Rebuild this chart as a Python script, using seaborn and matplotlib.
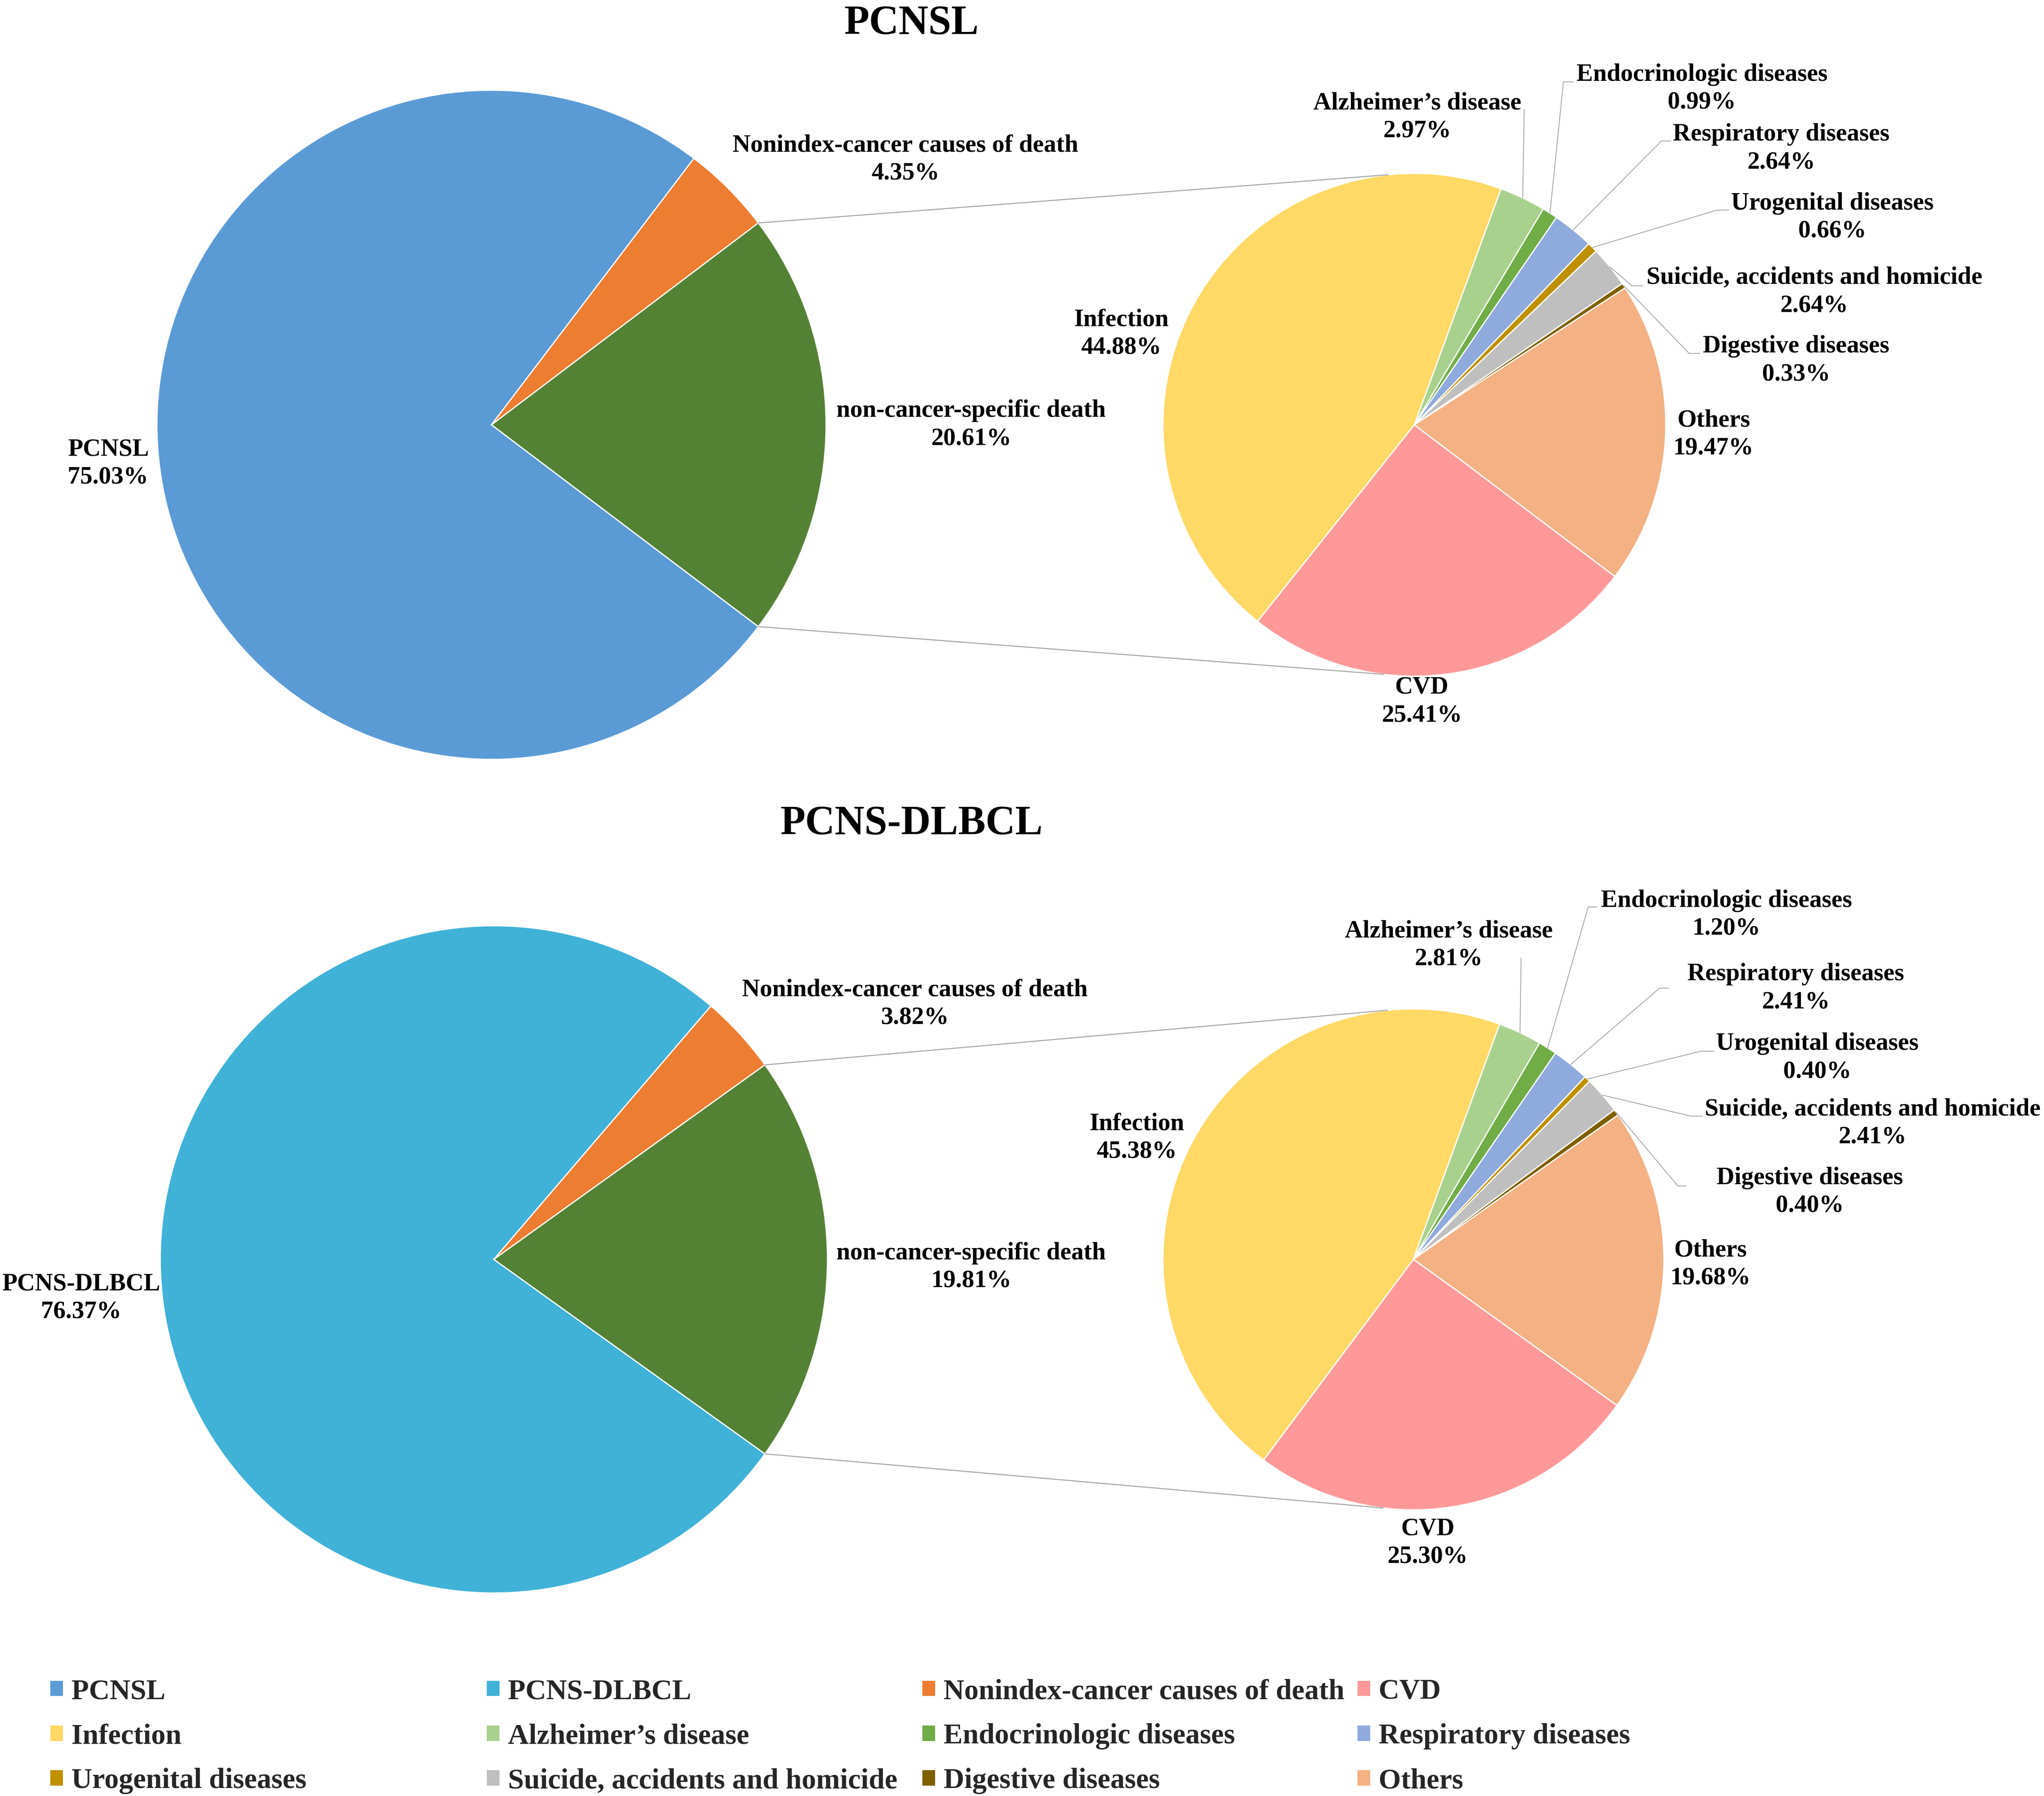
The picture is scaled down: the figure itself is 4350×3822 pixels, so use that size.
import matplotlib
matplotlib.use("Agg")
import matplotlib.pyplot as plt
from matplotlib.patches import Patch, ConnectionPatch
import numpy as np
import seaborn as sns

sns.set_theme(style="white")
plt.rcParams["font.family"] = ["Liberation Serif", "DejaVu Serif"]
plt.rcParams["font.weight"] = "bold"

# ---- data ----
main_names_pcnsl = ["PCNSL", "Nonindex-cancer causes of death", "non-cancer-specific death"]
main_vals_pcnsl = [75.03, 4.35, 20.61]
main_names_dlbcl = ["PCNS-DLBCL", "Nonindex-cancer causes of death", "non-cancer-specific death"]
main_vals_dlbcl = [76.37, 3.82, 19.81]

cause_names = ["CVD", "Infection", "Alzheimer’s disease", "Endocrinologic diseases",
               "Respiratory diseases", "Urogenital diseases",
               "Suicide, accidents and homicide", "Digestive diseases", "Others"]
cause_vals_pcnsl = [25.41, 44.88, 2.97, 0.99, 2.64, 0.66, 2.64, 0.33, 19.47]
cause_vals_dlbcl = [25.30, 45.38, 2.81, 1.20, 2.41, 0.40, 2.41, 0.40, 19.68]

legend_names = ["PCNSL", "PCNS-DLBCL", "Nonindex-cancer causes of death", "CVD",
                "Infection", "Alzheimer’s disease", "Endocrinologic diseases", "Respiratory diseases",
                "Urogenital diseases", "Suicide, accidents and homicide", "Digestive diseases", "Others"]

colors = {
    "PCNSL": "#5B9BD5", "PCNS-DLBCL": "#40B2D7",
    "Nonindex-cancer causes of death": "#ED7D31", "non-cancer-specific death": "#548235",
    "CVD": "#FF9999", "Infection": "#FFD966", "Alzheimer’s disease": "#A9D18E",
    "Endocrinologic diseases": "#70AD47", "Respiratory diseases": "#8FAADC",
    "Urogenital diseases": "#BF9000", "Suicide, accidents and homicide": "#BFBFBF",
    "Digestive diseases": "#7F6000", "Others": "#F4B183",
}

# ---- layout (label positions relative to pie centre, in radii) ----
main_lbl_pcnsl = [(-1.146, -0.115), (1.237, 0.794), (1.434, 0.0)]
main_lbl_dlbcl = [(-1.237, -0.116), (1.262, 0.766), (1.431, -0.023)]
cause_lbl_pcnsl = [(0.03, -1.10), (-1.166, 0.363), (0.011, 1.224), (1.144, 1.338), (1.46, 1.099),
                   (1.662, 0.826), (1.591, 0.529), (1.518, 0.256), (1.19, -0.037)]
cause_lbl_dlbcl = [(0.058, -1.131), (-1.105, 0.486), (0.141, 1.255), (1.25, 1.377), (1.527, 1.083),
                   (1.613, 0.805), (1.833, 0.544), (1.582, 0.270), (1.186, -0.019)]
# leader lines for the thin slices: index -> (elbow, end)
lead_pcnsl = {2: ((0.437, 1.254), (0.437, 1.254)), 3: ((0.593, 1.364), (0.632, 1.364)),
              4: ((0.983, 1.129), (1.019, 1.129)), 5: ((1.204, 0.854), (1.250, 0.854)),
              6: ((0.865, 0.553), (0.908, 0.553)), 7: ((1.093, 0.284), (1.135, 0.284))}
lead_dlbcl = {2: ((0.430, 1.203), (0.430, 1.203)), 3: ((0.698, 1.407), (0.732, 1.407)),
              4: ((0.983, 1.083), (1.019, 1.083)), 5: ((1.148, 0.831), (1.199, 0.831)),
              6: ((1.107, 0.572), (1.154, 0.572)), 7: ((1.056, 0.293), (1.088, 0.293))}

W, H = 4350, 3822
fig = plt.figure(figsize=(W / 100, H / 100), dpi=100)
fig.patch.set_facecolor("white")

LBL_FS = 38
GRAY = "#A6A6A6"


def pie_axes(cx, cy, r):
    ax = fig.add_axes([(cx - r) / W, 1 - (cy + r) / H, 2 * r / W, 2 * r / H])
    return ax


def draw_pie(ax, names, vals, lbl_pos, start):
    wedges, _ = ax.pie(vals, colors=[colors[n] for n in names], startangle=start,
                       counterclock=False,
                       wedgeprops=dict(edgecolor="white", linewidth=1.8))
    ax.set_xlim(-1, 1)
    ax.set_ylim(-1, 1)
    ax.set_aspect("equal")
    ax.axis("off")
    for n, v, (x, y) in zip(names, vals, lbl_pos):
        ax.text(x, y, f"{n}\n{v:.2f}%", ha="center", va="center", fontsize=LBL_FS,
                fontweight="bold", linespacing=1.3, multialignment="center", color="black")
    return wedges


def draw_leaders(ax, wedges, leads):
    for i, (elbow, end) in leads.items():
        w = wedges[i]
        a = np.deg2rad((w.theta1 + w.theta2) / 2)
        xs = [np.cos(a), elbow[0], end[0]]
        ys = [np.sin(a), elbow[1], end[1]]
        ax.plot(xs, ys, color=GRAY, lw=1.3, clip_on=False, solid_joinstyle="miter")


def connect(axL, axR, wL, ang_top, ang_bot):
    green = wL[2]
    for aL, aR in [(green.theta2, ang_top), (green.theta1, ang_bot)]:
        pA = (np.cos(np.deg2rad(aL)), np.sin(np.deg2rad(aL)))
        pB = (np.cos(np.deg2rad(aR)), np.sin(np.deg2rad(aR)))
        con = ConnectionPatch(xyA=pA, coordsA=axL.transData, xyB=pB, coordsB=axR.transData,
                              color=GRAY, lw=1.6)
        fig.add_artist(con)


panels = [
    ("PCNSL", main_names_pcnsl, main_vals_pcnsl, main_lbl_pcnsl,
     cause_vals_pcnsl, cause_lbl_pcnsl, lead_pcnsl, 904, (1046, 712), (3010, 535), 50),
    ("PCNS-DLBCL", main_names_dlbcl, main_vals_dlbcl, main_lbl_dlbcl,
     cause_vals_dlbcl, cause_lbl_dlbcl, lead_dlbcl, 2680, (1051, 710), (3008, 533), 1753),
]

for title, mnames, mvals, mlbl, cvals, clbl, leads, cy, (lx, lr), (rx, rr), ty in panels:
    start = -mvals[2] * 3.6 / 2
    axL = pie_axes(lx, cy, lr)
    wL = draw_pie(axL, mnames, mvals, mlbl, start)
    axR = pie_axes(rx, cy, rr)
    wR = draw_pie(axR, cause_names, cvals, clbl, start)
    draw_leaders(axR, wR, leads)
    connect(axL, axR, wL, 96, -97)
    fig.text(1940 / W, 1 - ty / H, title, ha="center", va="center", fontsize=63,
             fontweight="bold", color="black")

# ---- legend: 4 fixed-width columns, filled row by row ----
handles = [Patch(facecolor=colors[n], edgecolor="none") for n in legend_names]
col_x = [107, 1036, 1963, 2889]
for c, x in enumerate(col_x):
    leg = fig.legend(handles[c::4], legend_names[c::4], loc="upper left",
                     bbox_to_anchor=(x / W, 1 - 3572 / H), frameon=False,
                     fontsize=44, handlelength=0.44, handleheight=0.44, handletextpad=0.3,
                     labelspacing=0.64, borderpad=0, borderaxespad=0)
    for t in leg.get_texts():
        t.set_fontweight("bold")

fig.savefig("out.png", dpi=100, facecolor="white")
